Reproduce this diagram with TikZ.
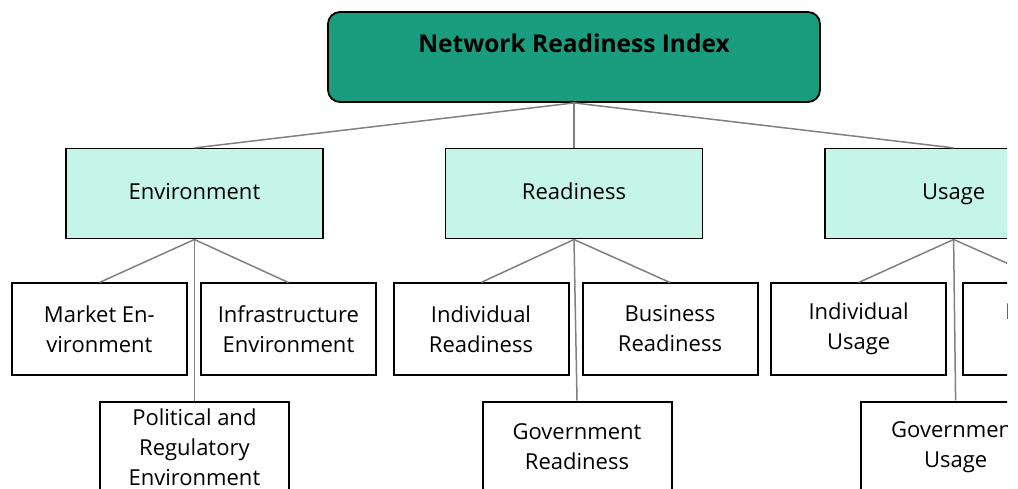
\documentclass[tikz,border=0pt]{standalone}
\usepackage{fontspec}
\setmainfont{Open Sans}
\usetikzlibrary{positioning}
\definecolor{nrigreen}{RGB}{26,156,126}
\definecolor{nrimint}{RGB}{197,245,233}
\definecolor{linkgray}{RGB}{128,128,128}

\begin{document}
\begin{tikzpicture}[-,thin,node distance=45pt]
                \tikzset{every node/.style={font=\fontsize{22}{30}\selectfont, align=center, inner sep=0pt},
                         root/.style={draw, line width=1.8pt, rounded corners=12pt, fill=nrigreen, minimum width=492pt, text height=41pt, text depth=49pt, font=\fontsize{24.5}{30}\selectfont\bfseries},
                         pillar/.style={draw, line width=1.6pt, fill=nrimint, minimum width=257pt, minimum height=90pt, text height=16pt, text depth=5pt},
                         leaf/.style={draw, line width=2pt, fill=white, minimum width=175pt, minimum height=91pt},
                         wideleaf/.style={leaf, minimum width=189pt},
                         link/.style={draw=linkgray, line width=1.5pt}}

                \useasboundingbox (0,0) rectangle (1018pt,488pt);
                \clip (0,0) rectangle (1007pt,488pt);

                \node[root] (NRI) at (574pt,431pt) {Network Readiness Index};
                \node[pillar] (R) [below=of NRI] {Readiness};
                \node[pillar] (E) [left=121pt of R] {Environment};
                \node[pillar] (U) [right=121pt of R] {Usage};

                \node[leaf] (ME) [below=43pt of E, xshift=-95pt] {Market En-\\vironment};
                \node[leaf] (IE) [below=43pt of E, xshift=94pt] {Infrastructure\\Environment};
                \node[wideleaf] (PE) [below=161pt of E] {Political and\\Regulatory\\Environment};

                \node[leaf] (IR) [below=43pt of R, xshift=-93pt] {Individual\\Readiness};
                \node[leaf] (BR) [below=43pt of R, xshift=96pt] {Business\\Readiness};
                \node[wideleaf] (GR) [below=161pt of R, xshift=3pt] {Government\\Readiness};

                \node[leaf] (IU) [below=43pt of U, xshift=-95pt] {Individual\\Usage};
                \node[leaf] (BU) [below=43pt of U, xshift=97pt] {Business\\Usage};
                \node[wideleaf] (GU) [below=161pt of U, xshift=2pt] {Government\\Usage};

                \path (NRI.south) edge[link] (E.north);
                \path (NRI.south) edge[link] (R.north);
                \path (NRI.south) edge[link] (U.north);
                \path (E.south) edge[link] (ME.north);
                \path (E.south) edge[link] (IE.north);
                \path (E.south) edge[link] (PE.north);
                \path (R.south) edge[link] (IR.north);
                \path (R.south) edge[link] (BR.north);
                \path (R.south) edge[link] (GR.north);
                \path (U.south) edge[link] (IU.north);
                \path (U.south) edge[link] (BU.north);
                \path (U.south) edge[link] (GU.north);
            \end{tikzpicture}
\end{document}
